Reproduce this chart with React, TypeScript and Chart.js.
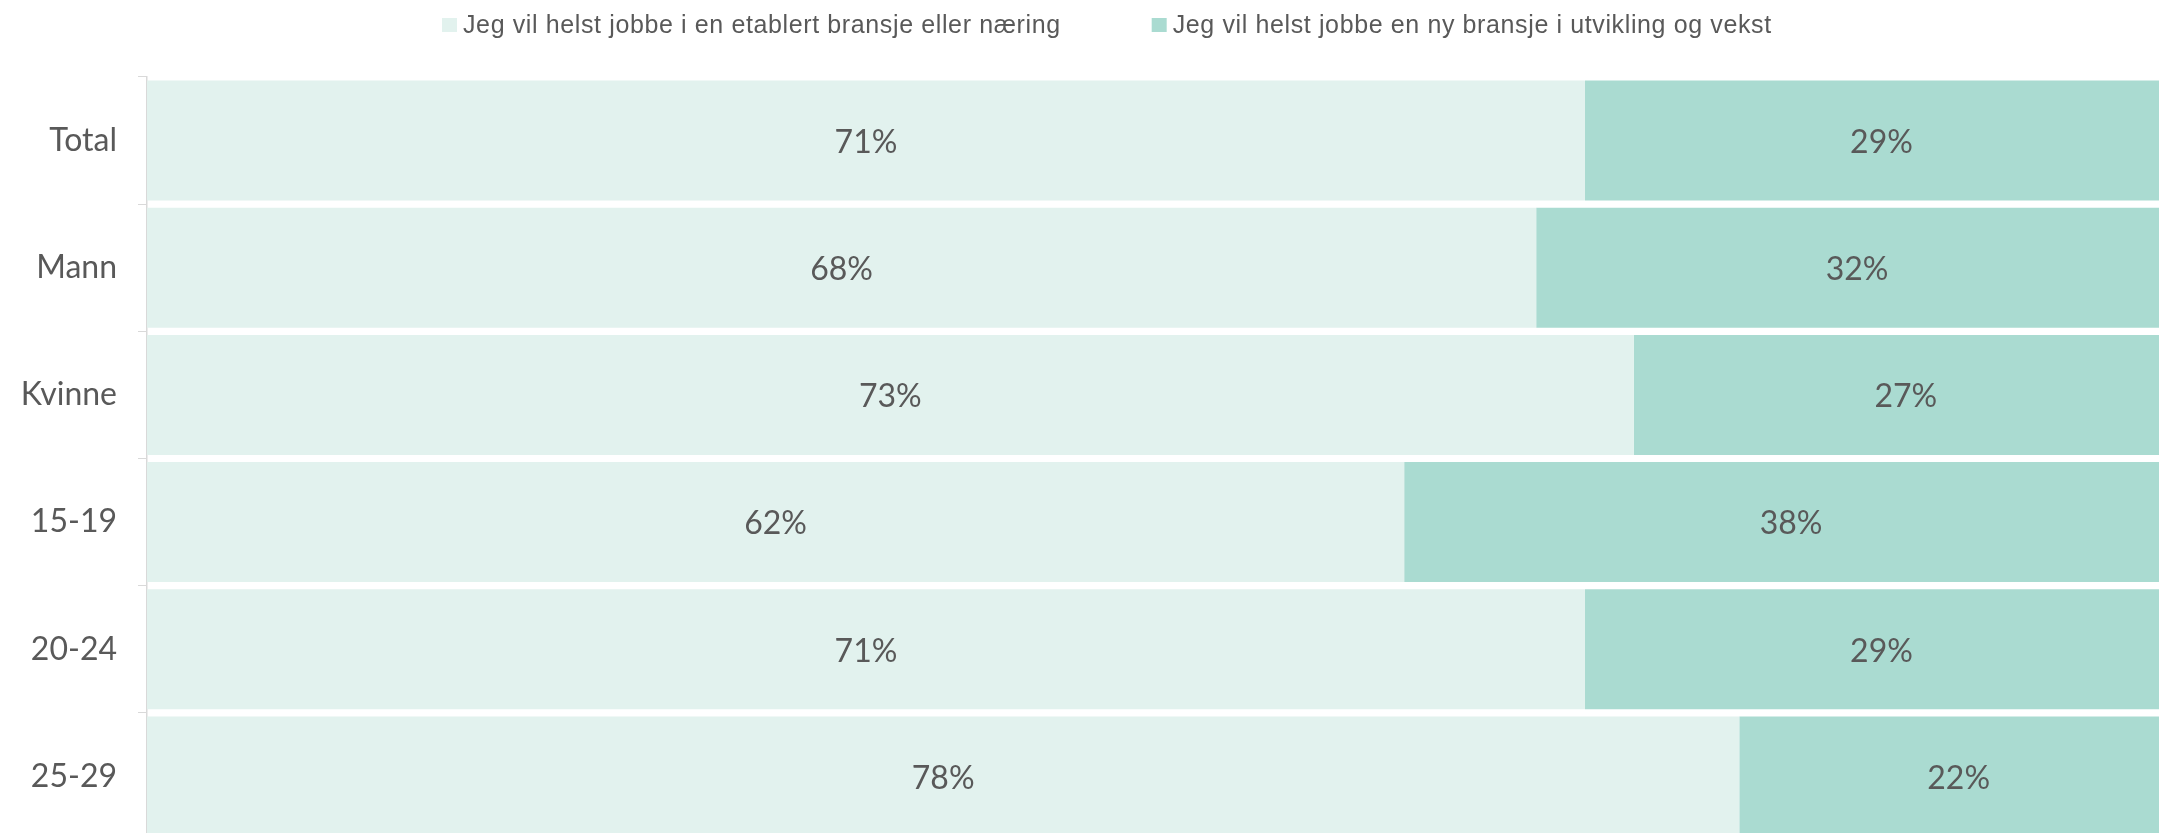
import React, { useEffect, useRef } from "react";
import { Chart, registerables } from "chart.js";

Chart.register(...registerables);

const categories = ["Total", "Mann", "Kvinne", "15-19", "20-24", "25-29"];
const seriesNames = [
  "Jeg vil helst jobbe i en etablert bransje eller næring",
  "Jeg vil helst jobbe en ny bransje i utvikling og vekst",
];
const established = [70.8, 68.4, 73.2, 61.9, 70.8, 78.4];
const newIndustry = [29.2, 31.6, 26.8, 38.1, 29.2, 21.6];
const colors = ["#E2F2EE", "#AADBD1"];

const TEXT = "#595959";
const AXIS_FONT = "Lato, 'DejaVu Sans', sans-serif";

const dataLabels = {
  id: "dataLabels",
  afterDatasetsDraw(chart: any) {
    const ctx = chart.ctx;
    ctx.save();
    ctx.font = `32px ${AXIS_FONT}`;
    ctx.fillStyle = TEXT;
    ctx.textAlign = "center";
    ctx.textBaseline = "middle";
    chart.data.datasets.forEach((ds: any, di: number) => {
      const meta = chart.getDatasetMeta(di);
      meta.data.forEach((el: any, i: number) => {
        const v = ds.data[i];
        const cx = (el.x + el.base) / 2;
        ctx.fillText(Math.round(v) + "%", cx, el.y + 2);
      });
    });
    ctx.restore();
  },
};

const customLegend = {
  id: "customLegend",
  afterDraw(chart: any) {
    const ctx = chart.ctx;
    ctx.save();
    ctx.font = "25px 'Liberation Sans', Arial, sans-serif";
    try {
      (ctx as any).letterSpacing = "0.62px";
    } catch (e) {}
    ctx.textBaseline = "alphabetic";
    ctx.textAlign = "left";
    let x = 442;
    const boxTop = 18;
    const box = 15;
    seriesNames.forEach((name, i) => {
      ctx.fillStyle = colors[i];
      ctx.fillRect(x, boxTop, box, 14);
      x += box + 6;
      ctx.fillStyle = TEXT;
      ctx.fillText(name, x, 33);
      x += ctx.measureText(name).width + 91;
    });
    ctx.restore();
  },
};

export default function App() {
  const ref = useRef<HTMLCanvasElement | null>(null);

  useEffect(() => {
    document.body.style.margin = "0";
    document.body.style.overflow = "hidden";
    const canvas = ref.current!;
    const chart = new Chart(canvas, {
      type: "bar",
      data: {
        labels: categories,
        datasets: [
          {
            label: seriesNames[0],
            data: established,
            backgroundColor: colors[0],
            barPercentage: 0.943,
            categoryPercentage: 1,
          },
          {
            label: seriesNames[1],
            data: newIndustry,
            backgroundColor: colors[1],
            barPercentage: 0.943,
            categoryPercentage: 1,
          },
        ],
      },
      options: {
        indexAxis: "y",
        animation: false,
        responsive: false,
        layout: { padding: { top: 77, right: 0, bottom: 0, left: 0 } },
        plugins: {
          legend: { display: false },
          tooltip: { enabled: false },
        },
        scales: {
          x: {
            stacked: true,
            min: 0,
            max: 100,
            display: false,
          },
          y: {
            stacked: true,
            afterFit: (scale: any) => {
              scale.width = 147;
              scale.paddingTop = 0;
              scale.paddingBottom = 0;
            },
            grid: {
              display: true,
              drawOnChartArea: false,
              drawTicks: true,
              tickLength: 9,
              color: "#D9D9D9",
              offset: true,
            },
            border: { display: true, color: "#D9D9D9", width: 1.5 },
            ticks: {
              color: TEXT,
              padding: 21,
              font: { family: AXIS_FONT, size: 32 },
            },
          },
        },
      },
      plugins: [dataLabels, customLegend],
    });
    return () => chart.destroy();
  }, []);

  return (
    <div style={{ width: 2178, height: 840 }}>
      <canvas ref={ref} width={2178} height={840} style={{ width: 2178, height: 840, display: "block" }} />
    </div>
  );
}
